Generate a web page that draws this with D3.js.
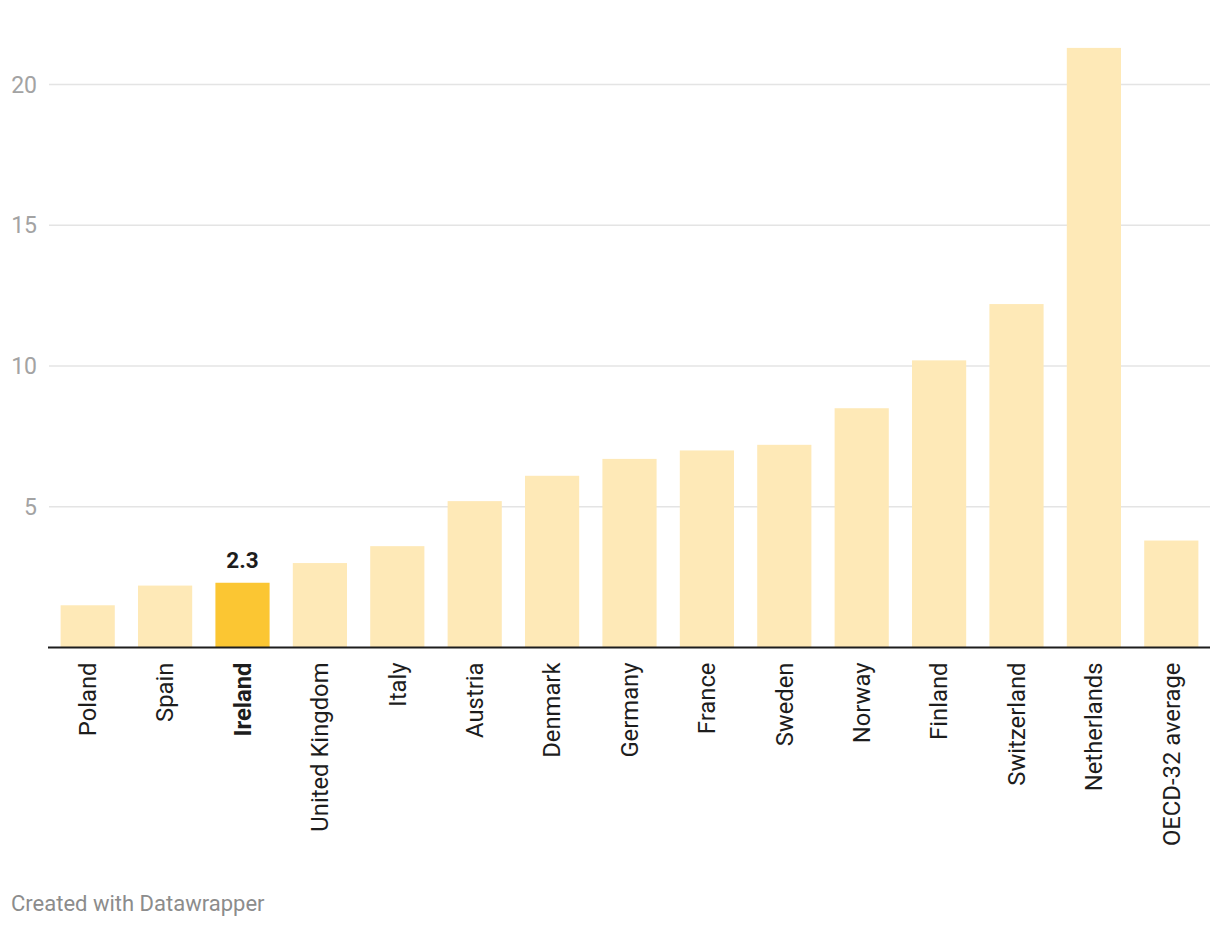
<!DOCTYPE html>
<html>
<head>
<meta charset="utf-8">
<script src="https://cdn.jsdelivr.net/npm/d3@7"></script>
<style>
  html, body { margin: 0; padding: 0; background: #fff; }
  svg { display: block; font-family: Roboto, "Noto Sans", sans-serif; }
</style>
</head>
<body>
<svg id="chart" width="1220" height="930"></svg>
<script>
const categories = ["Poland", "Spain", "Ireland", "United Kingdom", "Italy", "Austria", "Denmark", "Germany", "France", "Sweden", "Norway", "Finland", "Switzerland", "Netherlands", "OECD-32 average"];
const values = [1.5, 2.2, 2.3, 3.0, 3.6, 5.2, 6.1, 6.7, 7.0, 7.2, 8.5, 10.2, 12.2, 21.3, 3.8];
const highlighted = ["Ireland"];
const yTicks = [5, 10, 15, 20];
const footerText = "Created with Datawrapper";

const svg = d3.select("#chart");
const left = 49, right = 1210, baseY = 647.5, top20 = 84.5;

const x = d3.scaleBand().domain(categories).range([left, right]).paddingInner(0.30).paddingOuter(0.15);
const y = d3.scaleLinear().domain([0, 20]).range([baseY, top20]);

// gridlines
const grid = svg.append("g");
grid.selectAll("line").data(yTicks).join("line")
  .attr("x1", left).attr("x2", right)
  .attr("y1", d => y(d)).attr("y2", d => y(d))
  .attr("stroke", "#e4e4e4").attr("stroke-width", 1.5);

// y-axis labels
const yAxis = d3.axisLeft(y).tickValues(yTicks).tickSize(0).tickPadding(0);
const yg = svg.append("g").attr("transform", `translate(${left - 12},0)`).call(yAxis);
yg.select(".domain").remove();
yg.selectAll("text").attr("fill", "#a3a3a3").attr("font-size", 23)
  .attr("font-family", "Roboto, sans-serif").attr("dy", "0.33em").attr("x", 0);

// bars
svg.append("g").selectAll("rect").data(categories).join("rect")
  .attr("x", d => x(d))
  .attr("width", x.bandwidth())
  .attr("y", (d, i) => y(values[i]))
  .attr("height", (d, i) => baseY - y(values[i]))
  .attr("fill", d => highlighted.includes(d) ? "#fbc633" : "#fee9b7");

// value label for highlighted
svg.append("g").selectAll("text").data(categories.filter(c => highlighted.includes(c))).join("text")
  .attr("x", d => x(d) + x.bandwidth() / 2)
  .attr("y", d => y(values[categories.indexOf(d)]) - 15)
  .attr("text-anchor", "middle")
  .attr("font-size", 22.5).attr("font-weight", 700).attr("fill", "#1d1d1d")
  .text(d => values[categories.indexOf(d)].toFixed(1));

// baseline
svg.append("line").attr("x1", left - 1).attr("x2", right)
  .attr("y1", baseY).attr("y2", baseY)
  .attr("stroke", "#1d1d1d").attr("stroke-width", 2);

// x-axis labels rotated
const xAxis = d3.axisBottom(x).tickSize(0).tickPadding(0);
const xg = svg.append("g").attr("transform", `translate(0,${baseY})`).call(xAxis);
xg.select(".domain").remove();
xg.selectAll("text")
  .attr("font-size", 23.8).attr("font-family", "Roboto, sans-serif")
  .attr("fill", "#1d1d1d")
  .attr("font-weight", d => highlighted.includes(d) ? 700 : 400)
  .attr("text-anchor", "end")
  .attr("transform", "rotate(-90)")
  .attr("x", -15).attr("y", 0).attr("dy", "0.35em");

// footer
svg.append("text").attr("x", 11).attr("y", 911)
  .attr("font-size", 22).attr("fill", "#8c8c8c")
  .text(footerText);
</script>
</body>
</html>
